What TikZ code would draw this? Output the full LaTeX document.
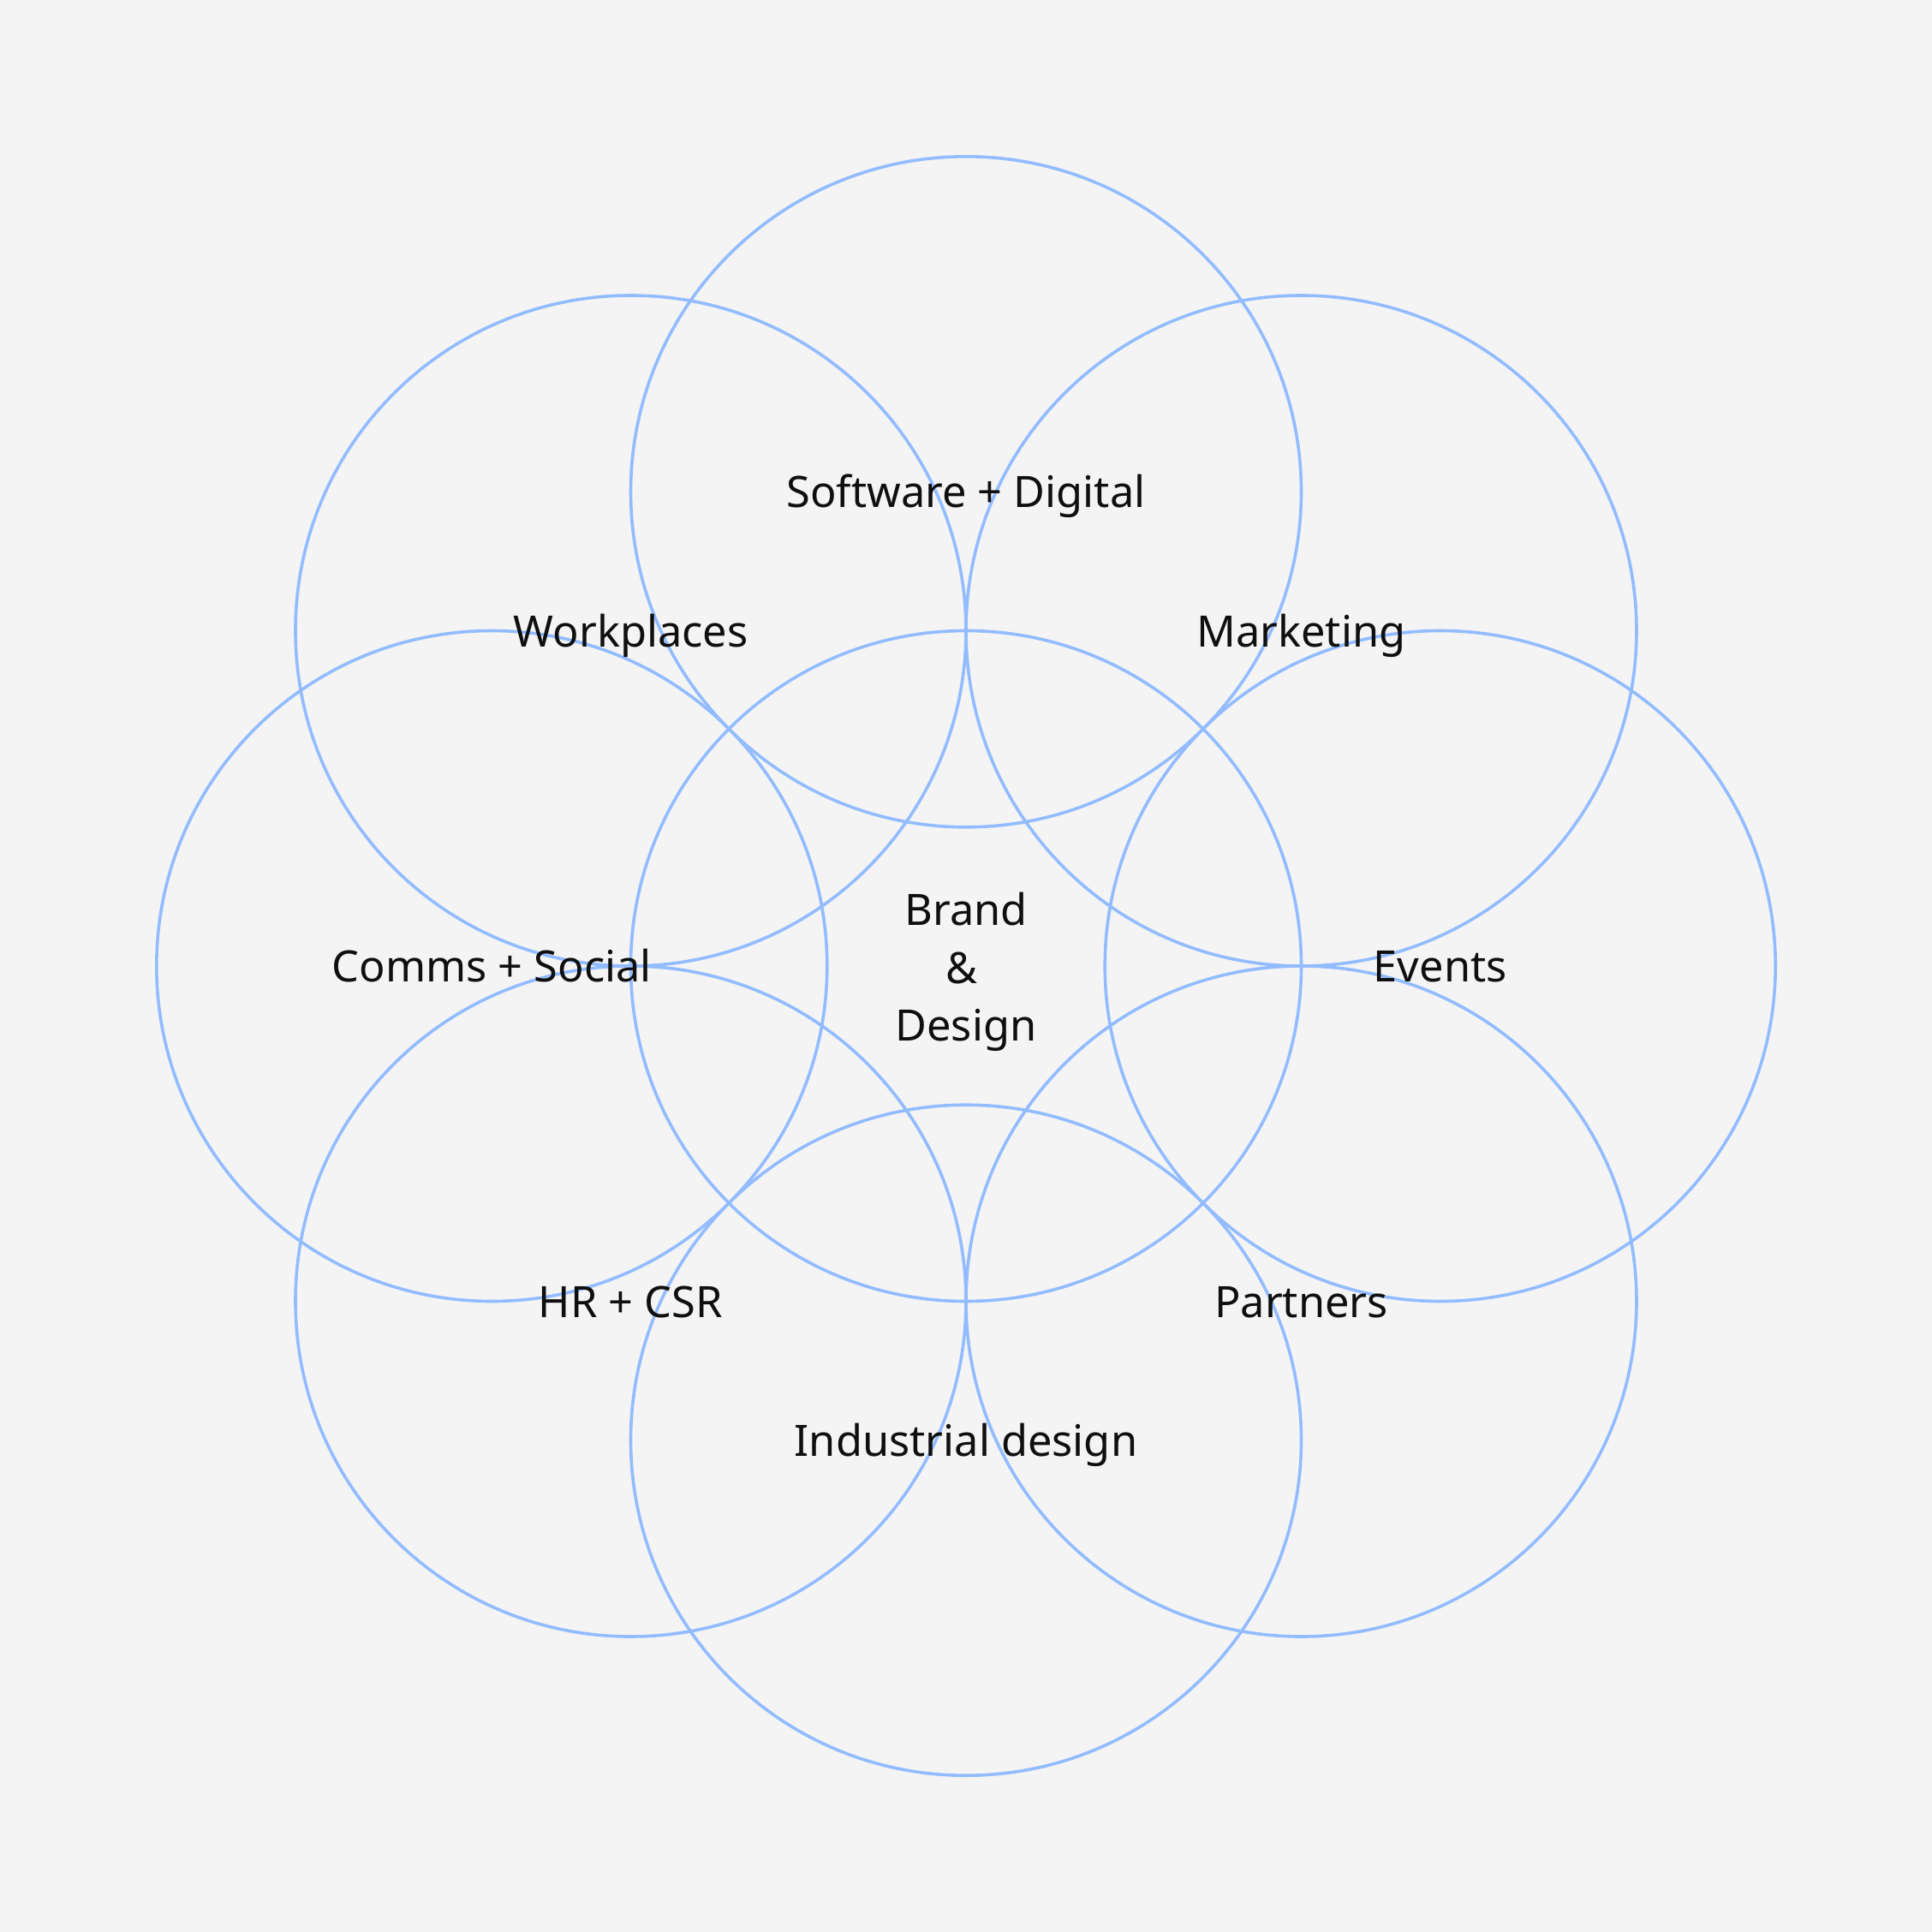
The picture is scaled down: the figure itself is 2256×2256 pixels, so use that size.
\documentclass[tikz,border=0pt]{standalone}
\usepackage{fontspec}
\setmainfont{Noto Sans}
\definecolor{bg}{HTML}{F4F4F4}
\definecolor{ring}{HTML}{92BCFF}
\definecolor{ink}{HTML}{0F0F0F}
\tikzset{
  ringline/.style={draw=ring, line width=3.6pt},
  lbl/.style={anchor=base, inner sep=0pt, text=ink, font=\fontsize{50.5}{67.5}\selectfont},
}
\begin{document}
\begin{tikzpicture}[x=1pt,y=-1pt]
\fill[bg] (0,0) rectangle (2256,2256);
\useasboundingbox (0,0) rectangle (2256,2256);
\def\R{391.5}
\coordinate (C) at (1128,1128);
\coordinate (N) at (1128,574.3);
\coordinate (S) at (1128,1681.7);
\coordinate (W) at (574.3,1128);
\coordinate (E) at (1681.7,1128);
\coordinate (NW) at (736.5,736.5);
\coordinate (NE) at (1519.5,736.5);
\coordinate (SW) at (736.5,1519.5);
\coordinate (SE) at (1519.5,1519.5);
\foreach \c in {C,N,S,W,E,NW,NE,SW,SE}{
  \draw[ringline] (\c) circle[radius=\R];
}
\node[lbl] (tN) at ([yshift=-18.5pt]N) {Software + Digital};
\node[lbl] (tNW) at ([yshift=-18.5pt]NW) {Workplaces};
\node[lbl] (tNE) at ([yshift=-18.5pt]NE) {Marketing};
\node[lbl] (tW) at ([yshift=-18.5pt]W) {Comms + Social};
\node[lbl] (tE) at ([yshift=-18.5pt]E) {Events};
\node[lbl] (tSW) at ([yshift=-18.5pt]SW) {HR + CSR};
\node[lbl] (tSE) at ([yshift=-18.5pt]SE) {Partners};
\node[lbl] (tS) at ([yshift=-18.5pt]S) {Industrial design};
\node[lbl] (tC1) at (1128,1080) {Brand};
\node[lbl] (tC2) at (1123,1148) {\&};
\node[lbl] (tC3) at (1128,1215) {Design};
\end{tikzpicture}
\end{document}
